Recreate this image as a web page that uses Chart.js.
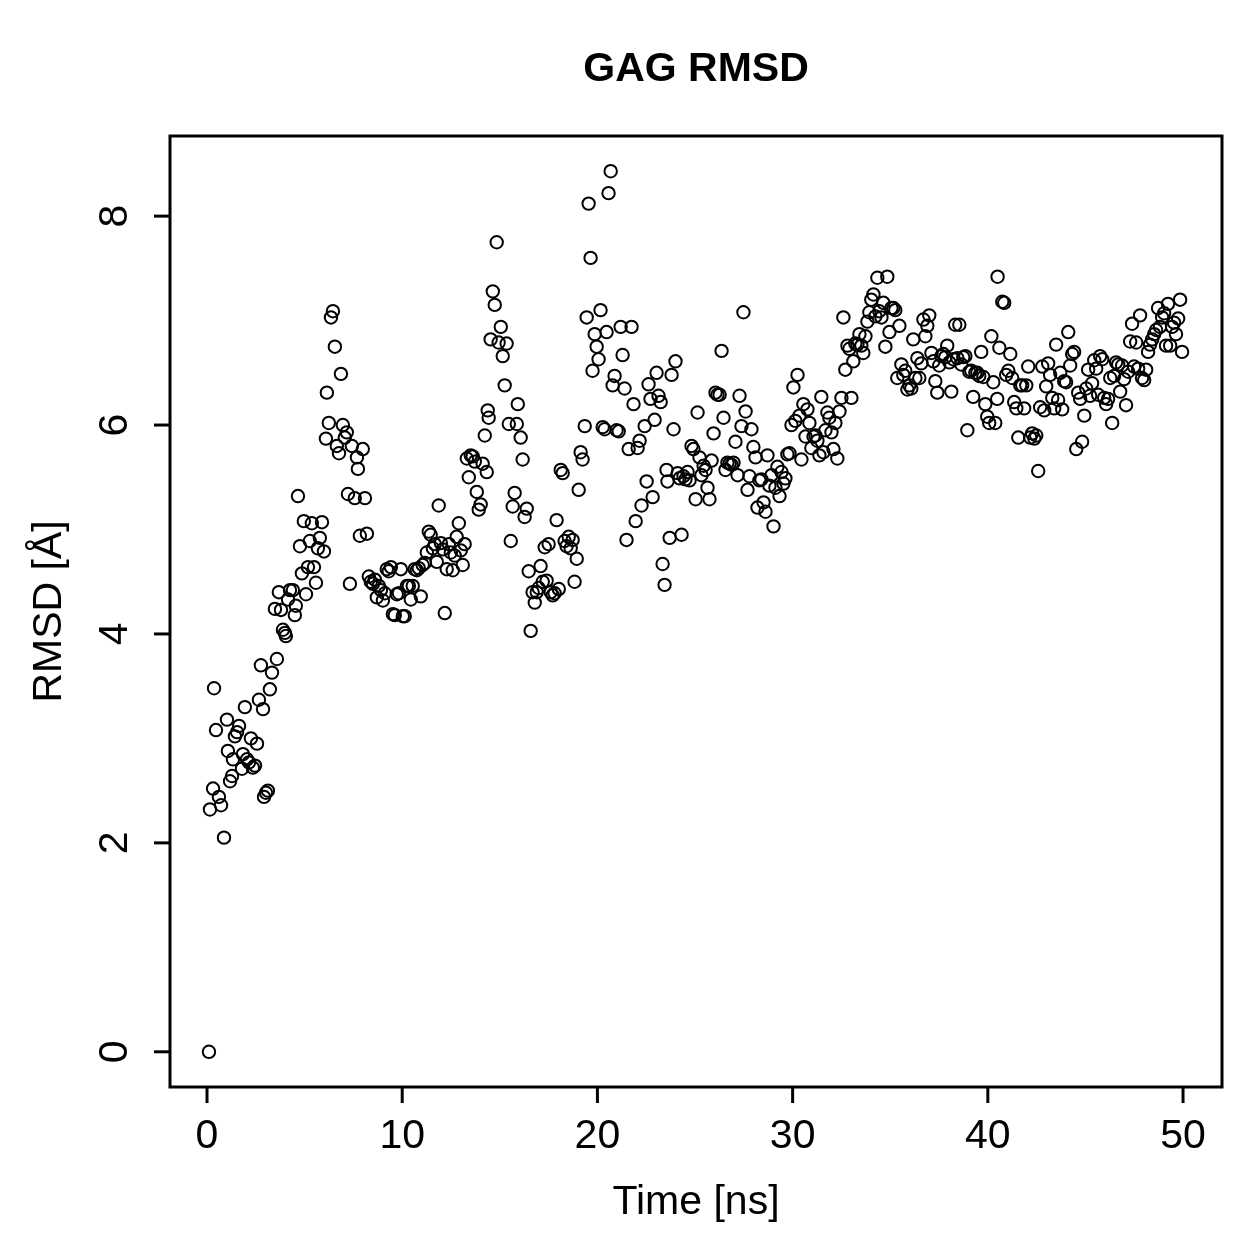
<!DOCTYPE html>
<html>
<head>
<meta charset="utf-8">
<title>GAG RMSD</title>
<script src="https://cdn.jsdelivr.net/npm/chart.js@4.4.1/dist/chart.umd.min.js"></script>
<style>
    html, body { margin: 0; padding: 0; background: #ffffff; }
    #rmsdChart { display: block; }
</style>
</head>
<body>
<canvas id="rmsdChart" width="1259" height="1259"></canvas>
<script>
// simulation time (ns)
const timeNs = [
    0.1, 0.15, 0.31, 0.36, 0.46, 0.61, 0.72, 0.87, 1.02, 1.07,
    1.18, 1.28, 1.33, 1.43, 1.54, 1.64, 1.79, 1.84, 1.94, 2.05,
    2.15, 2.25, 2.35, 2.46, 2.56, 2.66, 2.76, 2.87, 2.92, 3.02,
    3.12, 3.22, 3.33, 3.48, 3.58, 3.68, 3.79, 3.89, 3.99, 4.04,
    4.15, 4.25, 4.40, 4.50, 4.55, 4.66, 4.76, 4.86, 4.96, 5.07,
    5.17, 5.27, 5.37, 5.48, 5.58, 5.68, 5.78, 5.89, 5.99, 6.09,
    6.14, 6.24, 6.35, 6.45, 6.55, 6.65, 6.76, 6.86, 6.96, 7.06,
    7.16, 7.22, 7.32, 7.42, 7.57, 7.68, 7.73, 7.83, 7.98, 8.09,
    8.19,
    8.29, 8.39, 8.50, 8.60, 8.70, 8.80, 8.91, 9.01, 9.11, 9.21,
    9.31, 9.42, 9.52, 9.62, 9.72, 9.83, 9.93, 10.03, 10.13, 10.24,
    10.34, 10.44, 10.54, 10.64, 10.75, 10.85, 10.95, 11.05, 11.16, 11.26,
    11.36, 11.46, 11.57, 11.67, 11.77, 11.87, 11.98, 12.08, 12.18, 12.28,
    12.39, 12.49, 12.59, 12.69, 12.79, 12.90, 13.00, 13.10, 13.20, 13.31,
    13.41, 13.51, 13.61, 13.72, 13.82, 13.92, 14.02, 14.12, 14.23, 14.33,
    14.38, 14.43, 14.53, 14.64, 14.74, 14.84, 14.94, 15.05, 15.15, 15.25,
    15.35, 15.46, 15.56, 15.66, 15.76, 15.87, 15.92, 16.07, 16.17, 16.27,
    16.38, 16.48, 16.58, 16.68, 16.79, 16.89, 16.99, 17.09, 17.20, 17.30,
    17.40, 17.50, 17.61, 17.71, 17.81, 17.91, 18.02, 18.12, 18.22, 18.32,
    18.42, 18.53, 18.63, 18.73, 18.83, 18.94, 19.04, 19.14, 19.24, 19.35,
    19.45, 19.55, 19.65, 19.75, 19.86, 19.96, 20.06, 20.16, 20.27, 20.37,
    20.47, 20.57, 20.68, 20.78, 20.88, 20.98, 21.09, 21.19, 21.29, 21.39,
    21.49, 21.60, 21.75, 21.85, 21.96, 22.06, 22.16, 22.26, 22.42, 22.52,
    22.62, 22.72, 22.83, 22.93, 23.03, 23.13, 23.24, 23.34, 23.44, 23.54,
    23.59, 23.70, 23.80, 23.90, 24.00, 24.11, 24.21, 24.31, 24.41, 24.51,
    24.62, 24.72, 24.82, 24.92, 25.03, 25.13, 25.23, 25.33, 25.44, 25.54,
    25.64, 25.74, 25.85, 25.95, 26.05, 26.15, 26.26, 26.36, 26.46, 26.56,
    26.66, 26.77, 26.87, 26.97, 27.07, 27.18, 27.28, 27.38, 27.48, 27.59,
    27.69, 27.79, 27.89, 27.99, 28.10, 28.20, 28.30, 28.40, 28.51, 28.61,
    28.71, 28.81, 28.92, 29.02, 29.12, 29.22, 29.33, 29.43, 29.53, 29.63,
    29.73, 29.84, 29.94, 30.04, 30.14, 30.25, 30.35, 30.45, 30.55, 30.66,
    30.76, 30.86, 30.96, 31.07, 31.17, 31.27, 31.37, 31.47, 31.58, 31.68,
    31.78, 31.88, 31.99, 32.09, 32.19, 32.29, 32.40, 32.50, 32.60, 32.70,
    32.81, 32.91, 33.01, 33.11, 33.21, 33.32, 33.42, 33.52, 33.62, 33.73,
    33.83, 33.93, 34.03, 34.14, 34.24, 34.34, 34.44, 34.55, 34.65, 34.75,
    34.85, 34.96, 35.06, 35.16, 35.26, 35.36, 35.47, 35.57, 35.67, 35.77,
    35.88, 35.98, 36.08, 36.18, 36.29, 36.39, 36.49, 36.59, 36.70, 36.80,
    36.90, 37.00, 37.11, 37.21, 37.31, 37.41, 37.51, 37.62, 37.72, 37.82,
    37.92, 38.03, 38.13, 38.23, 38.33, 38.44, 38.54, 38.64, 38.74, 38.85,
    38.95, 39.05, 39.15, 39.25, 39.36, 39.46, 39.56, 39.66, 39.77, 39.87,
    39.97, 40.07, 40.18, 40.28, 40.38, 40.48, 40.50, 40.59, 40.74, 40.84,
    40.94, 41.05, 41.15, 41.25, 41.35, 41.46, 41.56, 41.66, 41.76, 41.86,
    41.97, 42.07, 42.17, 42.27, 42.38, 42.48, 42.58, 42.68, 42.79, 42.89,
    42.99, 43.09, 43.19, 43.30, 43.40, 43.50, 43.60, 43.71, 43.81, 43.91,
    44.01, 44.12, 44.22, 44.32, 44.42, 44.53, 44.63, 44.73, 44.83, 44.94,
    45.04, 45.14, 45.24, 45.34, 45.45, 45.55, 45.65, 45.75, 45.86, 45.96,
    46.06, 46.16, 46.27, 46.37, 46.47, 46.57, 46.68, 46.78, 46.88, 46.98,
    47.08, 47.19, 47.29, 47.39, 47.49, 47.60, 47.70, 47.80, 47.90, 48.01,
    48.11, 48.21, 48.31, 48.42, 48.52, 48.62, 48.72, 48.82, 48.93, 49.03,
    49.13, 49.23, 49.34, 49.44, 49.54, 49.64, 49.75, 49.85, 49.95
];

// RMSD (Å) for each frame above
const rmsd = [
    0, 2.32, 2.52, 3.48, 3.08, 2.44, 2.36, 2.05, 3.18, 2.88,
    2.59, 2.64, 2.80, 3.02, 3.06, 3.12, 2.71, 2.85, 3.30, 2.80,
    2.77, 3.00, 2.72, 2.74, 2.95, 3.37, 3.70, 3.28, 2.44, 2.48,
    2.50, 3.47, 3.63, 4.24, 3.76, 4.40, 4.23, 4.04, 4.01, 3.98,
    4.33, 4.42, 4.42, 4.18, 4.27, 5.32, 4.84, 4.58, 5.08, 4.38,
    4.64, 4.89, 5.06, 4.64, 4.49, 4.82, 4.92, 5.07, 4.79, 5.87,
    6.31, 6.02, 7.03, 7.09, 6.75, 5.80, 5.73, 6.49, 6.00, 5.88,
    5.93, 5.34, 4.48, 5.80, 5.30, 5.69, 5.58, 4.94, 5.77, 5.30,
    4.96,
    4.55, 4.50, 4.48, 4.52, 4.35, 4.46, 4.42, 4.32, 4.39, 4.62,
    4.60, 4.64, 4.19, 4.18, 4.38, 4.39, 4.62, 4.17, 4.17, 4.46,
    4.46, 4.33, 4.46, 4.62, 4.61, 4.63, 4.36, 4.66, 4.68, 4.78,
    4.98, 4.95, 4.82, 4.86, 4.69, 5.23, 4.87, 4.81, 4.20, 4.62,
    4.86, 4.78, 4.61, 4.75, 4.93, 5.06, 4.80, 4.66, 4.86, 5.68,
    5.50, 5.71, 5.70, 5.65, 5.36, 5.19, 5.24, 5.63, 5.90, 5.55,
    6.14, 6.07, 6.82, 7.28, 7.15, 7.75, 6.79, 6.94, 6.66, 6.38,
    6.78, 6.01, 4.89, 5.22, 5.35, 6.01, 6.20, 5.88, 5.67, 5.12,
    5.20, 4.60, 4.03, 4.40, 4.30, 4.40, 4.44, 4.65, 4.50, 4.83,
    4.51, 4.86, 4.40, 4.37, 4.39, 5.09, 4.43, 5.57, 5.54, 4.89,
    4.84, 4.93, 4.82, 4.90, 4.50, 4.72, 5.38, 5.74, 5.67, 5.99,
    7.03, 8.12, 7.60, 6.52, 6.87, 6.75, 6.63, 7.10, 5.98, 5.96,
    6.89, 8.22, 8.43, 6.38, 6.47, 5.95, 5.94, 6.94, 6.67, 6.35,
    4.90, 5.77, 6.94, 6.20, 5.08, 5.78, 5.85, 5.23, 5.99, 5.46,
    6.39, 6.25, 5.31, 6.05, 6.50, 6.28, 6.22, 4.67, 4.47, 5.57,
    5.46, 4.92, 6.48, 5.96, 6.61, 5.54, 5.49, 4.95, 5.51, 5.48,
    5.55, 5.47, 5.80, 5.77, 5.29, 6.12, 5.69, 5.52, 5.61, 5.57,
    5.40, 5.29, 5.66, 5.92, 6.31, 6.29, 6.29, 6.71, 6.07, 5.57,
    5.64, 5.63, 5.62, 5.64, 5.84, 5.52, 6.28, 5.99, 7.08, 6.13,
    5.38, 5.51, 5.96, 5.79, 5.69, 5.21, 5.47, 5.48, 5.26, 5.17,
    5.71, 5.42, 5.52, 5.03, 5.40, 5.60, 5.32, 5.55, 5.44, 5.49,
    5.72, 5.73, 6.00, 6.36, 6.04, 6.48, 6.09, 5.67, 6.20, 5.89,
    6.15, 6.02, 5.78, 5.89, 5.90, 5.85, 5.71, 6.27, 5.74, 5.95,
    6.12, 6.07, 5.93, 5.77, 6.02, 5.68, 6.13, 6.26, 7.03, 6.53,
    6.76, 6.73, 6.26, 6.61, 6.78, 6.77, 6.87, 6.76, 6.69, 6.85,
    6.99, 7.08, 7.20, 7.25, 7.04, 7.41, 7.09, 7.03, 7.17, 6.75,
    7.42, 6.89, 7.12, 7.12, 7.10, 6.45, 6.95, 6.58, 6.48, 6.52,
    6.34, 6.38, 6.35, 6.82, 6.45, 6.64, 6.45, 6.59, 7.01, 6.85,
    6.95, 7.05, 6.69, 6.61, 6.42, 6.31, 6.57, 6.66, 6.68, 6.65,
    6.76, 6.60, 6.32, 6.63, 6.96, 6.64, 6.96, 6.58, 6.65, 6.66,
    5.95, 6.51, 6.52, 6.27, 6.50, 6.50, 6.47, 6.70, 6.46, 6.20,
    6.08, 6.02, 6.85, 6.41, 6.02, 6.25, 7.42, 6.74, 7.18, 7.17,
    6.48, 6.52, 6.68, 6.45, 6.22, 6.16, 5.88, 6.38, 6.38, 6.16,
    6.38, 6.56, 5.88, 5.92, 5.87, 5.90, 5.56, 6.17, 6.56, 6.14,
    6.37, 6.59, 6.48, 6.26, 6.16, 6.77, 6.24, 6.50, 6.15, 6.42,
    6.41, 6.89, 6.57, 6.68, 6.70, 5.77, 6.31, 6.25, 5.84, 6.09,
    6.35, 6.53, 6.28, 6.40, 6.62, 6.54, 6.29, 6.66, 6.63, 6.26,
    6.20, 6.25, 6.45, 6.02, 6.47, 6.60, 6.58, 6.32, 6.57, 6.44,
    6.19, 6.51, 6.80, 6.97, 6.56, 6.79, 6.54, 7.05, 6.45, 6.43,
    6.53, 6.70, 6.77, 6.82, 6.87, 6.91, 7.12, 6.94, 7.03, 7.07,
    6.76, 7.16, 6.76, 6.94, 6.98, 6.87, 7.02, 7.20, 6.70
];

const xTicks = [0, 10, 20, 30, 40, 50];
const yTicks = [0, 2, 4, 6, 8];

const chartTitle = 'GAG RMSD';
const xTitle = 'Time [ns]';
const yTitle = 'RMSD [Å]';

document.addEventListener('DOMContentLoaded', function () {
    initRmsdChart();
});

// R-style box, outward ticks and labels
const basePlotFrame = {
    id: 'basePlotFrame',
    afterDraw(chart) {
        const ctx = chart.ctx;
        const area = chart.chartArea;
        const xScale = chart.scales.x;
        const yScale = chart.scales.y;
        const tickLen = 16;

        ctx.save();
        ctx.strokeStyle = '#000';
        ctx.fillStyle = '#000';
        ctx.lineWidth = 3;
        ctx.strokeRect(area.left, area.top, area.right - area.left, area.bottom - area.top);

        ctx.font = '41px "Liberation Sans", Arial, sans-serif';
        ctx.textAlign = 'center';
        ctx.textBaseline = 'middle';

        xTicks.forEach(v => {
            const px = xScale.getPixelForValue(v);
            ctx.beginPath();
            ctx.moveTo(px, area.bottom);
            ctx.lineTo(px, area.bottom + tickLen);
            ctx.stroke();
            ctx.fillText(String(v), px, 1137);
        });

        yTicks.forEach(v => {
            const py = yScale.getPixelForValue(v);
            ctx.beginPath();
            ctx.moveTo(area.left, py);
            ctx.lineTo(area.left - tickLen, py);
            ctx.stroke();
            ctx.save();
            ctx.translate(116, py);
            ctx.rotate(-Math.PI / 2);
            ctx.fillText(String(v), 0, 0);
            ctx.restore();
        });

        const midX = (area.left + area.right) / 2;
        const midY = (area.top + area.bottom) / 2;

        ctx.fillText(xTitle, midX, 1203);

        ctx.save();
        ctx.translate(50, midY);
        ctx.rotate(-Math.PI / 2);
        ctx.fillText(yTitle, 0, 0);
        ctx.restore();

        ctx.font = 'bold 41px "Liberation Sans", Arial, sans-serif';
        ctx.fillText(chartTitle, midX, 70);
        ctx.restore();
    }
};

function initRmsdChart() {
    const canvas = document.getElementById('rmsdChart');
    if (!canvas || typeof Chart === 'undefined') return;

    const points = timeNs.map((t, i) => ({ x: t, y: rmsd[i] }));

    new Chart(canvas.getContext('2d'), {
        type: 'scatter',
        data: {
            datasets: [{
                label: 'RMSD',
                data: points,
                showLine: false
            }]
        },
        options: {
            responsive: false,
            animation: false,
            devicePixelRatio: 1,
            layout: {
                padding: { left: 170, right: 37, top: 136, bottom: 172 }
            },
            elements: {
                point: {
                    pointStyle: 'circle',
                    radius: 6.2,
                    borderWidth: 2,
                    borderColor: '#000',
                    backgroundColor: 'rgba(0,0,0,0)'
                }
            },
            plugins: {
                legend: { display: false },
                tooltip: { enabled: false },
                title: { display: false }
            },
            scales: {
                x: { type: 'linear', min: -1.896, max: 51.996, display: false },
                y: { type: 'linear', min: -0.337, max: 8.767, display: false }
            }
        },
        plugins: [basePlotFrame]
    });
}
</script>
</body>
</html>
